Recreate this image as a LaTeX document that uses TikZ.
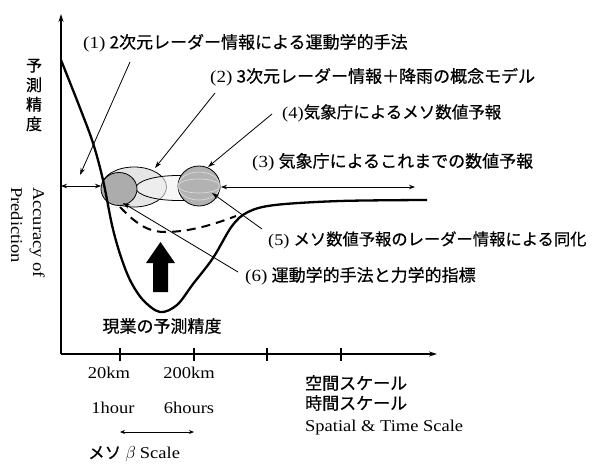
\documentclass[tikz,border=0pt]{standalone}
\usepackage{graphicx}
\usepackage{fontspec}
\setmainfont{Liberation Serif}
\newfontfamily\jp[FakeBold=0.6]{Noto Sans CJK JP}
\usetikzlibrary{arrows.meta,shapes.geometric}
\newcommand\latw[1]{\scalebox{1.12}[1]{#1}}
\begin{document}
\begin{tikzpicture}[x=1pt,y=-1pt,
  axis/.style={line width=1.2pt},
  thick curve/.style={line width=2.3pt,line join=round},
  thinarrow/.style={line width=0.8pt,-{Stealth[length=7pt,width=4.5pt]}},
  dblarrow/.style={line width=0.9pt,{Stealth[length=6pt,width=4.5pt]}-{Stealth[length=6pt,width=4.5pt]}},
  ell/.style={ellipse,draw,line width=0.8pt,inner sep=0pt},
  lab/.style={anchor=west,inner sep=0pt,font=\fontsize{17}{20}\selectfont},
  latin/.style={inner sep=0pt,font=\fontsize{16.5}{19}\selectfont},
  jpn/.style={inner sep=0pt,font=\jp\fontsize{17}{20}\selectfont}]
\useasboundingbox (0,0) rectangle (594,463);

% axes
\coordinate (O) at (61,354);
\coordinate (ytop) at (61,14);
\coordinate (xend) at (437,354);
\draw[axis,-{Stealth[length=8pt,width=5pt]}] (O) -- (ytop);
\draw[axis,-{Stealth[length=8pt,width=5pt]}] (O) -- (xend);
\foreach \t in {120,194,267,341} \draw[axis] (\t,348) -- (\t,361);

% axis labels
\node[jpn,align=center,font=\jp\fontsize{16}{19.5}\selectfont] (ylabjp) at (34,95) {予\\測\\精\\度};
\node[latin,rotate=-90,anchor=north west,align=left,font=\fontsize{16.5}{22}\selectfont] (ylaben) at (45,187) {\latw{Accuracy of}\\\latw{Prediction}};

% ellipses
\node[ell,minimum width=65pt,minimum height=40pt,fill=gray!25,fill opacity=0.8] (B) at (134,187) {};
\node[ell,minimum width=84pt,minimum height=25pt,fill=gray!10,fill opacity=0.6] (C) at (178,188) {};
\node[ell,minimum width=36pt,minimum height=33pt,fill=gray!65] (A) at (119,189) {};
\node[ell,minimum width=42pt,minimum height=40pt,fill=gray!60] (D) at (199,186) {};
\begin{scope}
\clip (D.center) ellipse (21pt and 20pt);
\draw[gray!25,line width=0.6pt] (D.center) ellipse (21pt and 7pt);
\draw[gray!25,line width=0.6pt] (D.center) ellipse (21pt and 14pt);
\end{scope}

% solid curve
\draw[thick curve] plot[smooth,tension=0.55] coordinates {(61,60) (80,108) (93,143) (103,180) (112,225) (120,254) (130,280) (143,300) (160,312) (177,305) (193,284) (213,258) (232,226) (248,212) (275,205) (340,201) (427,200)};
% dashed curve
\draw[line width=2pt,dash pattern=on 9pt off 6pt] (120,207) .. controls (138,226) and (150,232) .. (165,232) .. controls (190,232) and (215,224) .. (236,216);

% big arrow
\fill[black] (153,292) -- (153,263) -- (146,263) -- (160.5,242) -- (175,263) -- (168,263) -- (168,292) -- cycle;

% horizontal arrows
\coordinate (hl1) at (61,186);
\coordinate (hl2) at (101,186);
\draw[dblarrow] (hl1) -- (hl2);
\coordinate (hr1) at (221,187);
\coordinate (hr2) at (415,187);
\draw[dblarrow] (hr1) -- (hr2);

% labels
\node[lab] (L1) at (83,43) {\latw{(1)} {\jp 2次元レーダー情報による運動学的手法}};
\node[lab] (L2) at (210,77) {\latw{(2)} {\jp 3次元レーダー情報＋降雨の概念モデル}};
\node[lab,font=\fontsize{16.5}{20}\selectfont] (L4) at (282,113) {\latw{(4)}{\jp 気象庁によるメソ数値予報}};
\node[lab] (L3) at (252,162) {\latw{(3)} {\jp 気象庁によるこれまでの数値予報}};
\node[lab,font=\fontsize{16.3}{20}\selectfont] (L5) at (268,240) {\latw{(5)} {\jp メソ数値予報のレーダー情報による同化}};
\node[lab] (L6) at (245,276) {\latw{(6)} {\jp 運動学的手法と力学的指標}};

% connectors
\coordinate (s1) at (130,62);  \coordinate (t1) at (80,175);
\coordinate (s2) at (215,93);  \coordinate (t2) at (155,168);
\coordinate (s4) at (272,114); \coordinate (t4) at (208,167);
\coordinate (s5) at (262,229); \coordinate (t5) at (212,193);
\coordinate (s6) at (238,272); \coordinate (t6) at (123,203);
\draw[thinarrow] (s1) -- (t1);
\draw[thinarrow] (s2) -- (t2);
\draw[thinarrow] (s4) -- (t4);
\draw[thinarrow] (s5) -- (t5);
\draw[thinarrow] (s6) -- (t6);

% bottom texts
\node[jpn] (cur) at (162,326) {現業の予測精度};
\node[latin] (k20) at (109,373) {\latw{20km}};
\node[latin] (k200) at (189,373) {\latw{200km}};
\node[latin] (h1) at (113,408) {\latw{1hour}};
\node[latin] (h6) at (189,408) {\latw{6hours}};
\coordinate (m1) at (120,432);
\coordinate (m2) at (194,432);
\draw[line width=0.9pt,{Stealth[length=5pt,width=4pt]}-{Stealth[length=5pt,width=4pt]}] (m1) -- (m2);
\node[latin,anchor=west] (meso) at (88,454) {{\jp メソ} $\beta$ \latw{Scale}};
\node[jpn,anchor=west] (sp) at (305,383) {空間スケール};
\node[jpn,anchor=west] (tm) at (305,403) {時間スケール};
\node[latin,anchor=west] (st) at (305,428) {\latw{Spatial \& Time Scale}};
\end{tikzpicture}
\end{document}
